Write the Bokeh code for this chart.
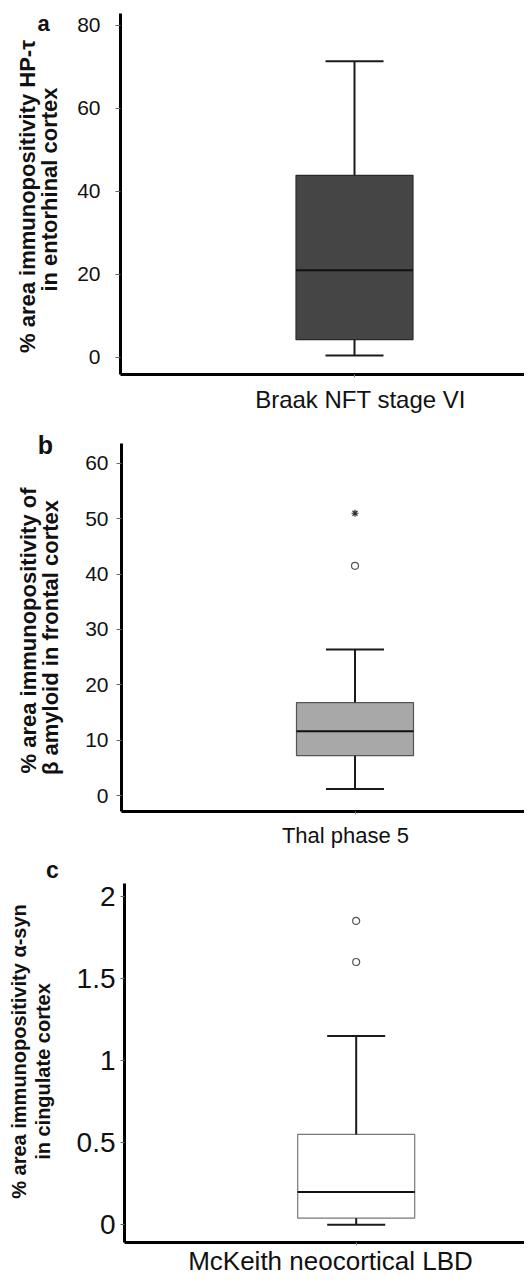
import math
from bokeh.plotting import figure
from bokeh.layouts import column, row
from bokeh.models import Range1d, FixedTicker, LinearAxis
from bokeh.core.properties import value
from bokeh.embed import file_html
from bokeh.resources import INLINE

# ---------------- data ----------------
panel_letters = ["a", "b", "c"]
categories = ["Braak NFT stage VI", "Thal phase 5", "McKeith neocortical LBD"]
y_title_line1 = ["% area immunopositivity HP-τ",
                 "% area immunopositivity of",
                 "% area immunopositivity α-syn"]
y_title_line2 = ["in entorhinal cortex",
                 "β amyloid in frontal cortex",
                 "in cingulate cortex"]
whisker_low = [0.5, 1.2, 0.0]
q1 = [4.3, 7.2, 0.04]
median = [21.0, 11.6, 0.2]
q3 = [43.9, 16.8, 0.55]
whisker_high = [71.4, 26.4, 1.15]
outliers_circle = [[], [41.5], [1.6, 1.85]]
outliers_star = [[], [51.0], []]
yticks_a = [0, 20, 40, 60, 80]
yticks_b = [0, 10, 20, 30, 40, 50, 60]
yticks_c = [0, 0.5, 1, 1.5, 2]
yticklabels_c = ["0", "0.5", "1", "1.5", "2"]
yticks = [yticks_a, yticks_b, yticks_c]
ytick_labels = [None, None, yticklabels_c]

# ---------------- styles / layout ----------------
FONT = "Liberation Sans"
fills = ["#454545", "#a8a8a8", "#ffffff"]
outlines = ["#2a2a2a", "#555555", "#777777"]
LEFT_W = 70          # side strip holding the panel letter and the y title
TOTAL_W = 524
# pixel positions inside each panel (x from the panel's left, y from its top)
cfg = [
    dict(h=415, top=13, bottom=41, left=50, yr=(-4.10, 82.89), xr=(-234, 170),
         tick_fs="21px", cat_fs="24px", title_fs="22px", letter_fs="22px",
         tick_standoff=15, tick_out=5, cat_standoff=8, cat_shift=6,
         letter_pos=(43, 23), line1_pos=(27, 196), line2_pos=(49, 189)),
    dict(h=435, top=28, bottom=38, left=51, yr=(-2.88, 63.6), xr=(-233.5, 169.5),
         tick_fs="21px", cat_fs="22px", title_fs="22px", letter_fs="25px",
         tick_standoff=8, tick_out=5, cat_standoff=8, cat_shift=-9.5,
         letter_pos=(45, 29), line1_pos=(28, 215), line2_pos=(50, 222)),
    dict(h=428, top=33, bottom=31, left=54, yr=(-0.108, 2.078), xr=(-231.7, 168.3),
         tick_fs="28px", cat_fs="26px", title_fs="20px", letter_fs="23px",
         tick_standoff=5, tick_out=4, cat_standoff=0, cat_shift=-25.7,
         letter_pos=(52, 19), line1_pos=(18, 201), line2_pos=(42, 221)),
]
BOX_W = 117
CAP_W = 58


def no_frame_align(fig):
    if "frame_align" in fig.properties():
        fig.frame_align = False


rows = []
for i in range(3):
    c = cfg[i]
    h = c["h"]
    # ---- side strip: panel letter and y-axis title ----
    s = figure(width=LEFT_W, height=h, output_backend="svg", toolbar_location=None,
               x_range=Range1d(0, LEFT_W), y_range=Range1d(-h, 0),
               min_border=0, x_axis_type=None, y_axis_type=None)
    no_frame_align(s)
    s.outline_line_color = None
    s.xgrid.visible = False
    s.ygrid.visible = False
    s.text(x=[c["letter_pos"][0]], y=[-c["letter_pos"][1]], text=[panel_letters[i]],
           text_font=value(FONT), text_font_style="bold", text_font_size=c["letter_fs"],
           text_align="center", text_baseline="middle", text_color="#111111")
    s.text(x=[c["line1_pos"][0], c["line2_pos"][0]],
           y=[-c["line1_pos"][1], -c["line2_pos"][1]],
           text=[y_title_line1[i], y_title_line2[i]],
           angle=math.pi / 2, text_font=value(FONT), text_font_style="bold",
           text_font_size=c["title_fs"], text_align="center", text_baseline="middle",
           text_color="#111111")

    # ---- main plot ----
    p = figure(width=TOTAL_W - LEFT_W, height=h, output_backend="svg", toolbar_location=None,
               x_range=Range1d(*c["xr"]), y_range=Range1d(*c["yr"]),
               min_border_left=c["left"], min_border_right=0,
               min_border_top=c["top"], min_border_bottom=c["bottom"])
    no_frame_align(p)
    p.outline_line_color = None
    p.xgrid.visible = False
    p.ygrid.visible = False

    ya = p.yaxis[0]
    ya.ticker = FixedTicker(ticks=yticks[i])
    if ytick_labels[i] is not None:
        ya.major_label_overrides = {t: l for t, l in zip(yticks[i], ytick_labels[i])}
    ya.axis_line_width = 3
    ya.axis_line_color = "black"
    ya.major_tick_line_color = "#666666"
    ya.major_tick_out = c["tick_out"]
    ya.major_tick_in = 0
    ya.minor_tick_line_color = None
    ya.minor_tick_out = 0
    ya.minor_tick_in = 0
    ya.major_label_text_font = FONT
    ya.major_label_text_font_size = c["tick_fs"]
    ya.major_label_text_color = "#111111"
    ya.major_label_standoff = c["tick_standoff"]

    xa = p.xaxis[0]
    xa.ticker = FixedTicker(ticks=[0])
    xa.major_label_overrides = {0: ""}
    xa.major_label_text_font_size = "1px"
    xa.major_label_standoff = 0
    xa.axis_line_width = 3
    xa.axis_line_color = "black"
    xa.major_tick_line_color = "#888888"
    xa.major_tick_out = 3
    xa.major_tick_in = 0
    xa.minor_tick_line_color = None
    xa.minor_tick_out = 0
    xa.minor_tick_in = 0

    # category label (its own axis, shifted like the reference's text)
    p.extra_x_ranges = {"cat": Range1d(c["xr"][0] - c["cat_shift"], c["xr"][1] - c["cat_shift"])}
    ca = LinearAxis(x_range_name="cat", ticker=FixedTicker(ticks=[0]),
                    major_label_overrides={0: categories[i]})
    ca.axis_line_color = None
    ca.major_tick_line_color = None
    ca.minor_tick_line_color = None
    ca.major_tick_out = 0
    ca.major_tick_in = 0
    ca.minor_tick_out = 0
    ca.minor_tick_in = 0
    ca.major_label_text_font = FONT
    ca.major_label_text_font_size = c["cat_fs"]
    ca.major_label_text_color = "#111111"
    ca.major_label_standoff = c["cat_standoff"]
    p.add_layout(ca, "below")

    p.vbar(x=[0], width=BOX_W, bottom=[q1[i]], top=[q3[i]],
           fill_color=fills[i], line_color=outlines[i], line_width=1.2)
    p.segment(x0=[0, 0], y0=[q3[i], q1[i]], x1=[0, 0], y1=[whisker_high[i], whisker_low[i]],
              line_color="#1a1a1a", line_width=2)
    p.segment(x0=[-CAP_W / 2, -CAP_W / 2], y0=[whisker_high[i], whisker_low[i]],
              x1=[CAP_W / 2, CAP_W / 2], y1=[whisker_high[i], whisker_low[i]],
              line_color="#1a1a1a", line_width=2)
    p.segment(x0=[-BOX_W / 2], y0=[median[i]], x1=[BOX_W / 2], y1=[median[i]],
              line_color="#111111", line_width=2)
    if outliers_circle[i]:
        p.scatter(x=[0] * len(outliers_circle[i]), y=outliers_circle[i], marker="circle",
                  size=7, fill_color=None, line_color="#555555", line_width=1.2)
    if outliers_star[i]:
        p.scatter(x=[0] * len(outliers_star[i]), y=outliers_star[i], marker="asterisk",
                  size=7, line_color="#333333", line_width=1.2)

    rows.append(row(s, p, spacing=0))

layout = column(*rows, spacing=0)
open("out.html", "w").write(file_html(layout, INLINE))
